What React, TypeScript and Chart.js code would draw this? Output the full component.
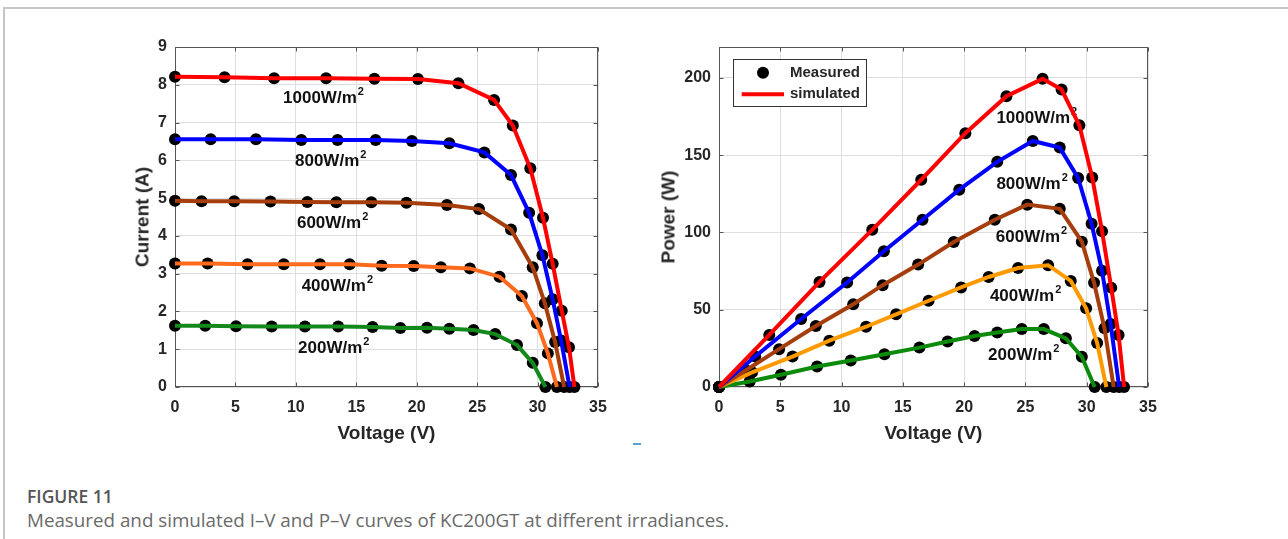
import React, { useEffect, useRef } from 'react';
import { Chart, registerables } from 'chart.js';

Chart.register(...registerables);

// ---------------- data ----------------
const IRRADIANCES = ['1000', '800', '600', '400', '200'];

// measured voltages (V), shared by both panels
const v1000 = [0, 4.1, 8.2, 12.5, 16.5, 20.1, 23.45, 26.4, 27.95, 29.4, 30.45, 31.25, 32.0, 32.6, 33.05];
const v800 = [0, 2.95, 6.7, 10.45, 13.45, 16.6, 19.6, 22.7, 25.6, 27.8, 29.3, 30.4, 31.25, 31.95, 32.65];
const v600 = [0, 2.2, 4.9, 7.9, 10.95, 13.35, 16.25, 19.15, 22.5, 25.15, 27.8, 29.6, 30.6, 31.45, 32.2];
const v400 = [0, 2.7, 6.0, 9.0, 12.0, 14.45, 17.1, 19.75, 22.0, 24.4, 26.85, 28.7, 29.95, 30.85, 31.6];
const v200 = [0, 2.5, 5.05, 8.0, 10.75, 13.5, 16.35, 18.65, 20.85, 22.7, 24.7, 26.5, 28.3, 29.6, 30.65];

// currents (A)
const i1000 = [8.21, 8.2, 8.17, 8.17, 8.16, 8.15, 8.04, 7.6, 6.92, 5.79, 4.48, 3.26, 2.02, 1.05, 0];
const i800 = [6.56, 6.56, 6.56, 6.54, 6.54, 6.54, 6.51, 6.45, 6.21, 5.61, 4.61, 3.49, 2.32, 1.23, 0];
const i600 = [4.93, 4.92, 4.92, 4.91, 4.9, 4.89, 4.89, 4.88, 4.82, 4.71, 4.17, 3.17, 2.22, 1.19, 0];
const i400 = [3.27, 3.27, 3.25, 3.25, 3.25, 3.25, 3.21, 3.2, 3.17, 3.14, 2.92, 2.41, 1.69, 0.89, 0];
const i200 = [1.62, 1.62, 1.61, 1.6, 1.6, 1.6, 1.59, 1.56, 1.57, 1.54, 1.51, 1.4, 1.11, 0.64, 0];

// powers (W)
const p1000 = [0, 33.7, 68, 101.7, 134.1, 164.2, 188.2, 199.4, 192.5, 169.3, 135.6, 100.8, 64.3, 33.7, 0];
const p800 = [0, 19.7, 44, 67.6, 87.8, 108.2, 127.7, 145.7, 159.2, 154.9, 135.2, 105.6, 75.2, 40.8, 0];
const p600 = [0, 10.8, 24.5, 39.5, 53.5, 65.9, 79.2, 93.8, 108.2, 118, 115.3, 94, 67.5, 38, 0];
const p400 = [0, 9.5, 19.7, 30, 39, 47, 55.8, 64.4, 71.2, 77.0, 78.8, 68.6, 50.9, 28.5, 0];
const p200 = [0, 3.6, 7.9, 13.3, 17.1, 21.2, 25.5, 29.4, 33, 35.2, 37.5, 37.5, 31.5, 19.6, 0];

// axis ticks
const X_TICKS = [0, 5, 10, 15, 20, 25, 30, 35];
const IV_Y_TICKS = [0, 1, 2, 3, 4, 5, 6, 7, 8, 9];
const PV_Y_TICKS = [0, 50, 100, 150, 200];

// in-plot irradiance label anchors (data coordinates)
const ivLabelV = [8.94, 9.93, 10.09, 10.48, 10.18];
const ivLabelI = [7.64, 5.98, 4.34, 2.67, 1.03];
const pvLabelV = [22.63, 22.63, 22.58, 22.1, 21.95];
const pvLabelP = [173.9, 131.4, 96.8, 58.7, 20.7];

// ---------------- styles ----------------
const FONT = '"Liberation Sans", Arial, Helvetica, sans-serif';
const TEXT = '#262626';
const AXIS = '#555555';
const GRID = '#dedede';
const ivColors = ['#ff0000', '#0000ff', '#a53e0c', '#ff6a1c', '#13891c'];
const pvColors = ['#ff0000', '#0000ff', '#a53e0c', '#ff9a00', '#0b8a0b'];

const vSets = [v1000, v800, v600, v400, v200];
const iSets = [i1000, i800, i600, i400, i200];
const pSets = [p1000, p800, p600, p400, p200];

function buildDatasets(ySets: number[][], colors: string[]) {
  const lines = ySets.map((ys, k) => ({
    label: 'simulated',
    data: vSets[k].map((v, j) => ({ x: v, y: ys[j] })),
    showLine: true,
    borderColor: colors[k],
    backgroundColor: colors[k],
    borderWidth: 4,
    pointRadius: 0,
    tension: 0,
    fill: false,
    clip: false as any,
    order: 0,
  }));
  const pts = ySets.map((ys, k) => ({
    label: 'Measured',
    data: vSets[k].map((v, j) => ({ x: v, y: ys[j] })),
    showLine: false,
    pointRadius: 6,
    pointBackgroundColor: '#000',
    pointBorderColor: '#000',
    pointBorderWidth: 0,
    clip: false as any,
    order: 1,
  }));
  return [...lines, ...pts];
}

const boxPlugin = {
  id: 'matlabBox',
  beforeDatasetsDraw(chart: any) {
    const { ctx, chartArea: a, scales } = chart;
    const L = Math.round(a.left) + 0.5;
    const R = Math.round(a.right) - 0.5;
    const T = Math.round(a.top) + 0.5;
    const B = Math.round(a.bottom) - 0.5;
    ctx.save();
    ctx.strokeStyle = AXIS;
    ctx.lineWidth = 1;
    ctx.beginPath();
    const tl = 4;
    scales.x.ticks.forEach((t: any) => {
      const px = Math.round(scales.x.getPixelForValue(t.value)) + 0.5;
      ctx.moveTo(px, B);
      ctx.lineTo(px, B - tl);
      ctx.moveTo(px, T);
      ctx.lineTo(px, T + tl);
    });
    scales.y.ticks.forEach((t: any) => {
      const py = Math.round(scales.y.getPixelForValue(t.value)) + 0.5;
      ctx.moveTo(L, py);
      ctx.lineTo(L + tl, py);
      ctx.moveTo(R, py);
      ctx.lineTo(R - tl, py);
    });
    ctx.stroke();
    ctx.strokeRect(L, T, R - L, B - T);
    ctx.restore();
  },
};

function makeLabelPlugin(xs: number[], ys: number[]) {
  return {
    id: 'irrLabels',
    beforeDatasetsDraw(chart: any) {
      const { ctx, scales } = chart;
      ctx.save();
      ctx.fillStyle = '#111';
      ctx.textBaseline = 'middle';
      ctx.textAlign = 'left';
      IRRADIANCES.forEach((irr, k) => {
        const px = scales.x.getPixelForValue(xs[k]);
        const py = scales.y.getPixelForValue(ys[k]);
        const base = `${irr}W/m`;
        ctx.font = `bold 17px ${FONT}`;
        ctx.fillText(base, px, py);
        const w = ctx.measureText(base).width;
        ctx.font = `bold 11px ${FONT}`;
        ctx.fillText('2', px + w + 1, py - 6);
      });
      ctx.restore();
    },
  };
}

const legendPlugin = {
  id: 'boxLegend',
  afterDatasetsDraw(chart: any) {
    const { ctx, chartArea: a } = chart;
    const bx = Math.round(a.left + 14) + 0.5;
    const by = Math.round(a.top + 12) + 0.5;
    const bw = 133;
    const bh = 47;
    ctx.save();
    ctx.fillStyle = '#fff';
    ctx.fillRect(bx, by, bw, bh);
    ctx.strokeStyle = '#333';
    ctx.lineWidth = 1;
    ctx.strokeRect(bx, by, bw, bh);
    ctx.fillStyle = '#000';
    ctx.beginPath();
    ctx.arc(a.left + 44, a.top + 25.7, 6, 0, Math.PI * 2);
    ctx.fill();
    ctx.strokeStyle = '#ff0000';
    ctx.lineWidth = 4;
    ctx.beginPath();
    ctx.moveTo(a.left + 22.7, a.top + 47.3);
    ctx.lineTo(a.left + 65, a.top + 47.3);
    ctx.stroke();
    ctx.fillStyle = TEXT;
    ctx.font = `bold 15px ${FONT}`;
    ctx.textBaseline = 'middle';
    ctx.textAlign = 'left';
    ctx.fillText('Measured', a.left + 71, a.top + 25.7);
    ctx.fillText('simulated', a.left + 71, a.top + 47.3);
    ctx.restore();
  },
};

function makeConfig(
  ySets: number[][],
  colors: string[],
  yMax: number,
  yTicks: number[],
  yWidth: number,
  labelX: number[],
  labelY: number[],
  withLegend: boolean
): any {
  const tickFont = { family: FONT, size: 16, weight: 'bold' as const };
  const plugins: any[] = [boxPlugin, makeLabelPlugin(labelX, labelY)];
  if (withLegend) plugins.push(legendPlugin);
  return {
    type: 'scatter',
    data: { datasets: buildDatasets(ySets, colors) },
    plugins,
    options: {
      animation: false,
      responsive: false,
      maintainAspectRatio: false,
      events: [],
      layout: { padding: { top: 27, right: 22, left: 0, bottom: 0 } },
      plugins: { legend: { display: false }, tooltip: { enabled: false }, title: { display: false } },
      scales: {
        x: {
          type: 'linear',
          min: 0,
          max: 35,
          afterBuildTicks: (s: any) => {
            s.ticks = X_TICKS.map((value) => ({ value }));
          },
          afterFit: (s: any) => {
            s.height = 63;
          },
          ticks: { font: tickFont, color: TEXT, padding: 11, autoSkip: false, maxRotation: 0 },
          grid: { color: GRID, drawTicks: false, lineWidth: 1 },
          border: { display: false },
        },
        y: {
          type: 'linear',
          min: 0,
          max: yMax,
          afterBuildTicks: (s: any) => {
            s.ticks = yTicks.map((value) => ({ value }));
          },
          afterFit: (s: any) => {
            s.width = yWidth;
          },
          ticks: { font: tickFont, color: TEXT, padding: 8, autoSkip: false },
          grid: { color: GRID, drawTicks: false, lineWidth: 1 },
          border: { display: false },
        },
      },
    },
  };
}

const titleStyle: React.CSSProperties = {
  position: 'absolute',
  font: `bold 19px ${FONT}`,
  color: TEXT,
  whiteSpace: 'nowrap',
  lineHeight: 1,
};

export default function App() {
  const leftRef = useRef<HTMLCanvasElement>(null);
  const rightRef = useRef<HTMLCanvasElement>(null);

  useEffect(() => {
    const c1 = new Chart(
      leftRef.current as HTMLCanvasElement,
      makeConfig(iSets, ivColors, 9, IV_Y_TICKS, 75, ivLabelV, ivLabelI, false)
    );
    const c2 = new Chart(
      rightRef.current as HTMLCanvasElement,
      makeConfig(pSets, pvColors, 220, PV_Y_TICKS, 79, pvLabelV, pvLabelP, true)
    );
    return () => {
      c1.destroy();
      c2.destroy();
    };
  }, []);

  return (
    <div
      style={{
        position: 'absolute',
        left: 0,
        top: 0,
        width: 1288,
        height: 539,
        overflow: 'hidden',
        background: '#fff',
      }}
    >
      <div
        style={{
          position: 'absolute',
          left: 3,
          top: 7,
          right: -10,
          bottom: -10,
          borderTop: '2px solid #c6c6c6',
          borderLeft: '2px solid #c6c6c6',
        }}
      />
      <canvas
        ref={leftRef}
        width={520}
        height={430}
        style={{ position: 'absolute', left: 100, top: 20, width: 520, height: 430 }}
      />
      <canvas
        ref={rightRef}
        width={530}
        height={430}
        style={{ position: 'absolute', left: 640, top: 20, width: 530, height: 430 }}
      />
      <div style={{ ...titleStyle, left: 141.7, top: 217, transform: 'translate(-50%, -50%) rotate(-90deg)' }}>
        Current (A)
      </div>
      <div style={{ ...titleStyle, left: 386.5, top: 432, transform: 'translate(-50%, -50%)' }}>Voltage (V)</div>
      <div style={{ ...titleStyle, left: 667.5, top: 217, transform: 'translate(-50%, -50%) rotate(-90deg)' }}>
        Power (W)
      </div>
      <div style={{ ...titleStyle, left: 933.5, top: 432, transform: 'translate(-50%, -50%)' }}>Voltage (V)</div>
      <div
        style={{ position: 'absolute', left: 633, top: 443, width: 8, height: 2, background: '#5aa0d8' }}
      />
      <div
        style={{
          position: 'absolute',
          left: 27,
          top: 485,
          font: `600 17.5px "Open Sans", sans-serif`,
          color: '#555',
          lineHeight: '22px',
          whiteSpace: 'nowrap',
        }}
      >
        FIGURE 11
      </div>
      <div
        style={{
          position: 'absolute',
          left: 27,
          top: 508,
          font: `400 18.8px "Open Sans", sans-serif`,
          color: '#6a6a6a',
          lineHeight: '24px',
          whiteSpace: 'nowrap',
        }}
      >
        Measured and simulated I–V and P–V curves of KC200GT at different irradiances.
      </div>
    </div>
  );
}
